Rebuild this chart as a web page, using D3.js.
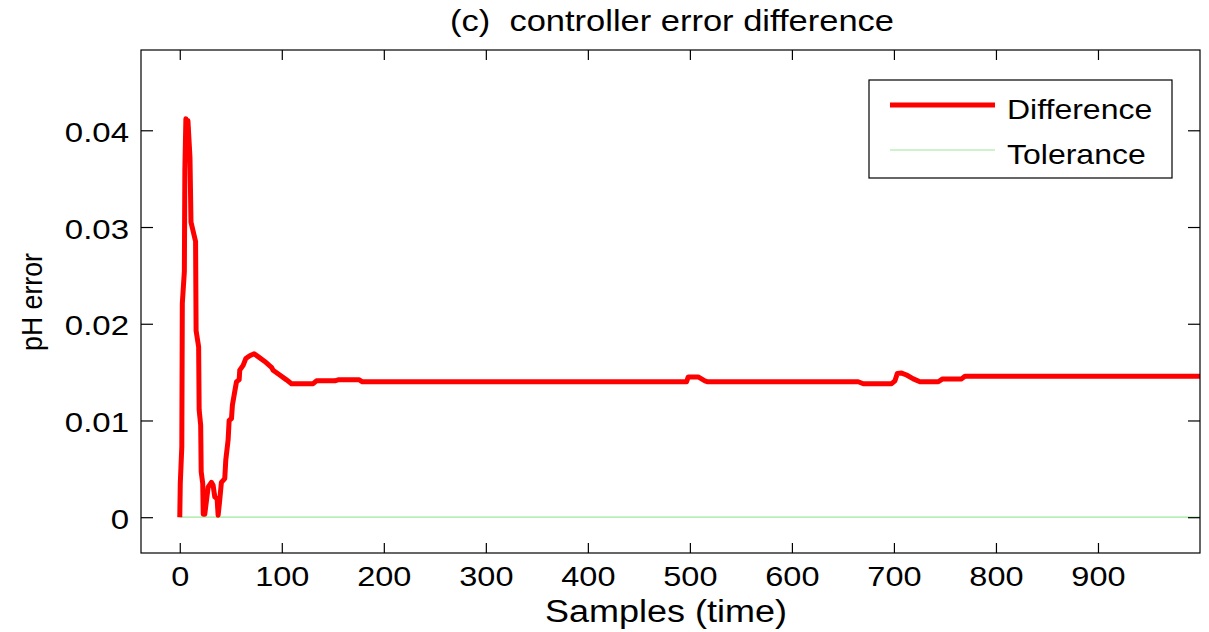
<!DOCTYPE html>
<html>
<head>
<meta charset="utf-8">
<script src="https://cdn.jsdelivr.net/npm/d3@7"></script>
<style>
  body { margin: 0; background: #fff; }
  svg text { font-family: "Liberation Sans", Arial, sans-serif; fill: #000; white-space: pre; }
</style>
</head>
<body>
<div id="main"></div>
<script>
// breakpoints of the difference curve
const samples = [0, 0.5, 2, 2.5, 4.5, 5, 6, 7, 8, 10, 11, 15.5, 16, 18.5, 19, 20.5, 21, 22.5, 23,
  24.5, 27.8, 31, 32.7, 34.3, 36.6, 37.6, 39.2, 40.8, 44.1, 45.1, 47.4, 48.4, 50.7, 51.6, 53.9,
  55.6, 58.2, 58.8, 62.1, 64.7, 68.6, 72.9, 76.8, 83.3, 89.9, 91.5, 98, 104.6, 109.5, 130.7, 134,
  152, 155.2, 176, 179, 496.7, 498.4, 508.1, 514.7, 517.6, 665, 670, 697.7, 701, 703.3, 707.5,
  712.4, 719, 725.5, 743.5, 747.7, 766.3, 769.6, 1000];
const difference = [0, 0.0035, 0.0073, 0.0221, 0.0254, 0.0359, 0.0412, 0.0380, 0.0410, 0.0372,
  0.0305, 0.0285, 0.0193, 0.0176, 0.0111, 0.0095, 0.0047, 0.0035, 0.0003,
  0.0003, 0.0031, 0.0036, 0.0033, 0.0021, 0.0019, 0.0002, 0.0018, 0.0036, 0.0040, 0.0059, 0.0080,
  0.0100, 0.0102, 0.0116, 0.0130, 0.0140, 0.0142, 0.0152, 0.0157, 0.0164, 0.0167, 0.0169, 0.0166,
  0.0161, 0.0155, 0.0152, 0.0147, 0.0142, 0.0138, 0.0138, 0.0141, 0.0141, 0.0142, 0.0142, 0.0140,
  0.0140, 0.0145, 0.0145, 0.0141, 0.0140, 0.0140, 0.0138, 0.0138, 0.0141, 0.01485, 0.0149,
  0.0147, 0.0143, 0.0140, 0.0140, 0.0143, 0.0143, 0.01457, 0.01457];
const toleranceSamples = [0, 1000];
const tolerance = [0, 0];

const xTicks = [0, 100, 200, 300, 400, 500, 600, 700, 800, 900];
const yTicks = [0, 0.01, 0.02, 0.03, 0.04];
const yTickLabels = ['0', '0.01', '0.02', '0.03', '0.04'];

const W = 1209, H = 632;
const boxLeft = 141, boxRight = 1200, boxTop = 50, boxBottom = 553;
const squash = 0.85; // the original figure is a little flattened

const svg = d3.select('#main').append('svg')
  .attr('width', W)
  .attr('height', H);

svg.append('rect').attr('width', W).attr('height', H).attr('fill', '#fff');

const x = d3.scaleLinear().domain([-38, 1000]).range([boxLeft, boxRight]);
const y = d3.scaleLinear().domain([-0.0037, 0.0483]).range([boxBottom, boxTop]);

const tolData = toleranceSamples.map((s, i) => [s, tolerance[i]]);
const diffData = samples.map((s, i) => [s, difference[i]]);
const line = d3.line().x(d => x(d[0])).y(d => y(d[1]));

// tolerance line
svg.append('path')
  .attr('d', line(tolData))
  .attr('fill', 'none')
  .attr('stroke', '#9be89b')
  .attr('stroke-width', 1.2);

svg.append('path')
  .attr('d', line(diffData))
  .attr('fill', 'none')
  .attr('stroke', '#ff0000')
  .attr('stroke-width', 5)
  .attr('stroke-linejoin', 'round');

// axes, MATLAB style inward ticks on all four sides
const fmtY = d => yTickLabels[yTicks.indexOf(d)];

const xBottom = svg.append('g')
  .attr('transform', `translate(0,${boxBottom})`)
  .call(d3.axisBottom(x).tickValues(xTicks).tickSizeInner(-10).tickSizeOuter(0));
xBottom.selectAll('text')
  .attr('y', null).attr('dy', null)
  .attr('font-size', 32.5)
  .attr('transform', `translate(0,33) scale(1,${squash})`);

svg.append('g')
  .attr('transform', `translate(0,${boxTop})`)
  .call(d3.axisTop(x).tickValues(xTicks).tickSizeInner(-10).tickSizeOuter(0).tickFormat(''));

const yLeft = svg.append('g')
  .attr('transform', `translate(${boxLeft},0)`)
  .call(d3.axisLeft(y).tickValues(yTicks).tickSizeInner(-12).tickSizeOuter(0).tickFormat(fmtY));
yLeft.selectAll('text')
  .attr('x', null).attr('dy', null)
  .attr('font-size', 33)
  .attr('text-anchor', 'end')
  .attr('transform', `translate(-12,11) scale(1,${squash})`);

svg.append('g')
  .attr('transform', `translate(${boxRight},0)`)
  .call(d3.axisRight(y).tickValues(yTicks).tickSizeInner(-12).tickSizeOuter(0).tickFormat(''));

svg.selectAll('.domain').remove();
svg.selectAll('.tick line').attr('stroke', '#000').attr('stroke-width', 1.2);

// plot box
svg.append('rect')
  .attr('x', boxLeft).attr('y', boxTop)
  .attr('width', boxRight - boxLeft).attr('height', boxBottom - boxTop)
  .attr('fill', 'none')
  .attr('stroke', '#000')
  .attr('stroke-width', 1.2);

// title and labels
svg.append('text')
  .attr('text-anchor', 'middle')
  .attr('font-size', 34.5)
  .attr('transform', `translate(672,31) scale(1,${squash})`)
  .text('(c)  controller error difference');

svg.append('text')
  .attr('text-anchor', 'middle')
  .attr('font-size', 36)
  .attr('transform', `translate(666,622) scale(1,${squash})`)
  .text('Samples (time)');

svg.append('text')
  .attr('text-anchor', 'middle')
  .attr('font-size', 29)
  .attr('transform', `translate(42,302) scale(1,0.92) rotate(-90)`)
  .text('pH error');

// legend
const legend = svg.append('g');
legend.append('rect')
  .attr('x', 869).attr('y', 80)
  .attr('width', 303).attr('height', 98)
  .attr('fill', '#fff')
  .attr('stroke', '#000')
  .attr('stroke-width', 1.2);

const legendItems = [
  { name: 'Difference', color: '#ff0000', width: 5, y: 105 },
  { name: 'Tolerance', color: '#9be89b', width: 1.2, y: 150 }
];

legendItems.forEach(d => {
  legend.append('line')
    .attr('x1', 890).attr('x2', 995)
    .attr('y1', d.y).attr('y2', d.y)
    .attr('stroke', d.color)
    .attr('stroke-width', d.width);
  legend.append('text')
    .attr('font-size', 32)
    .attr('transform', `translate(1007,${d.y + 14}) scale(1,${squash})`)
    .text(d.name);
});
</script>
</body>
</html>
